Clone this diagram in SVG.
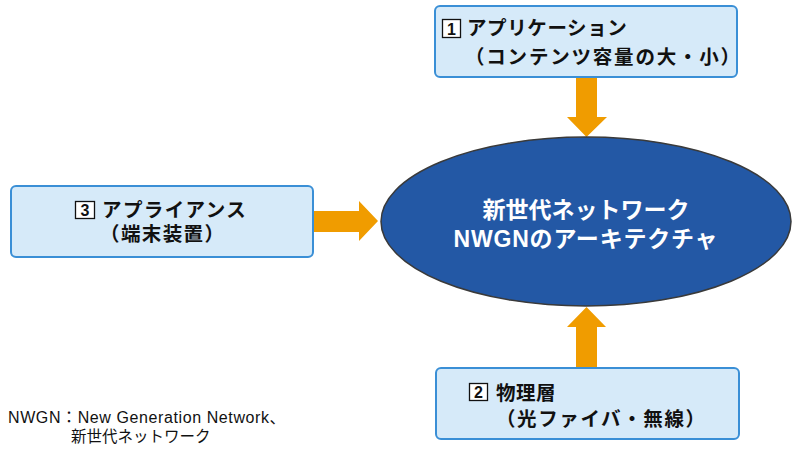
<svg xmlns="http://www.w3.org/2000/svg" width="800" height="452" viewBox="0 0 800 452">
<defs>
<style>
.box{fill:#d6eaf9;stroke:#3a8fd6;stroke-width:2}
.arrow{fill:#f09c00}
.lbl{font-family:"Liberation Sans","Noto Sans CJK JP",sans-serif;font-weight:bold;font-size:19.5px;fill:#111}
.num{fill:#fff;stroke:#111;stroke-width:1.3}
.numt{font-family:"Liberation Sans","Noto Sans CJK JP",sans-serif;font-weight:bold;font-size:16px;fill:#111;text-anchor:middle}
.ctr{font-family:"Liberation Sans","Noto Sans CJK JP",sans-serif;font-weight:bold;font-size:23px;fill:#fff;text-anchor:middle}
.note{font-family:"Liberation Sans","Noto Sans CJK JP",sans-serif;font-size:16px;fill:#111}
.note2{font-family:"Noto Sans CJK JP","Liberation Sans",sans-serif;font-size:15.5px;fill:#111}
</style>
</defs>
<rect width="800" height="452" fill="#fff"/>
<g id="connectors">
<polygon class="arrow" points="576,77 597,77 597,117 607,117 586.5,137 567,117 576,117"/>
<polygon class="arrow" points="313,211 359,211 359,201 378,221 359,241 359,232 313,232"/>
<polygon class="arrow" points="576,368 597,368 597,327 606,327 586.5,307 567,327 576,327"/>
</g>
<g id="center">
<ellipse cx="586" cy="221.5" rx="205" ry="84.5" fill="#2358a5" stroke="#3a3a3a" stroke-width="1.5"/>
<text class="ctr" x="586" y="218">新世代ネットワーク</text>
<text class="ctr" x="586" y="247" letter-spacing="0.8">NWGNのアーキテクチャ</text>
</g>
<g id="app">
<rect class="box" x="435" y="6" width="302" height="71" rx="5"/>
<rect class="num" x="442.5" y="19.5" width="18" height="18"/>
<text class="numt" x="451.5" y="34.5">1</text>
<text class="lbl" x="467" y="35" letter-spacing="0.6">アプリケーション</text>
<text class="lbl" x="465" y="64" letter-spacing="1.8">（コンテンツ容量の大・小）</text>
</g>
<g id="appliance">
<rect class="box" x="11" y="186" width="302" height="71" rx="5"/>
<rect class="num" x="75.5" y="201.5" width="19" height="17"/>
<text class="numt" x="85" y="216">3</text>
<text class="lbl" x="102" y="217" letter-spacing="1.4">アプライアンス</text>
<text class="lbl" x="100" y="241" letter-spacing="1.4">（端末装置）</text>
</g>
<g id="physical">
<rect class="box" x="436" y="368" width="303" height="71" rx="5"/>
<rect class="num" x="469.5" y="383.5" width="18" height="17"/>
<text class="numt" x="478.5" y="398">2</text>
<text class="lbl" x="496" y="400" letter-spacing="0.5">物理層</text>
<text class="lbl" x="496" y="426" letter-spacing="1.6">（光ファイバ・無線）</text>
</g>
<g id="note">
<text class="note" x="8" y="423" letter-spacing="0.6">NWGN：New Generation Network、</text>
<text class="note2" x="71" y="442">新世代ネットワーク</text>
</g>
</svg>
